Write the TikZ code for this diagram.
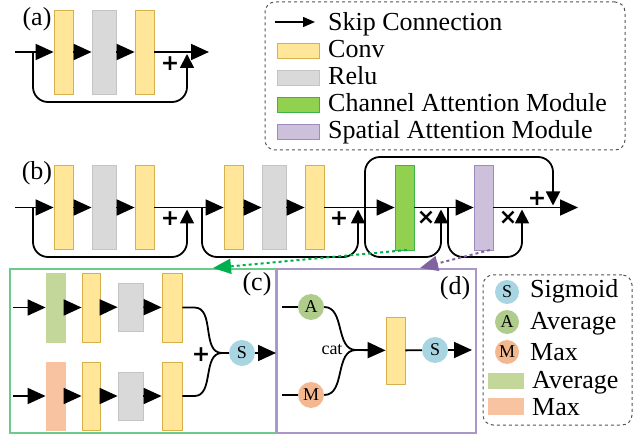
\documentclass[tikz,border=0pt]{standalone}
\usepackage{fontspec}
\setmainfont{Liberation Serif}
\newfontfamily\symfont{DejaVu Sans}
\usetikzlibrary{arrows.meta}
\definecolor{convfill}{HTML}{FFE699}
\definecolor{convdraw}{HTML}{D6B04A}
\definecolor{relufill}{HTML}{D9D9D9}
\definecolor{reludraw}{HTML}{C4C4C4}
\definecolor{cafill}{HTML}{92D050}
\definecolor{cadraw}{HTML}{3CB44B}
\definecolor{safill}{HTML}{CCC0DA}
\definecolor{sadraw}{HTML}{9E8CC0}
\definecolor{avgfill}{HTML}{C4D79B}
\definecolor{maxfill}{HTML}{F8C3A0}
\definecolor{sigfill}{HTML}{A8D5E2}
\definecolor{afill}{HTML}{B0CC8C}
\definecolor{mfill}{HTML}{F4B890}
\definecolor{cframe}{HTML}{6CCB8A}
\definecolor{dframe}{HTML}{A898C8}
\definecolor{dgreen}{HTML}{00B050}
\definecolor{dpurple}{HTML}{8064A2}
\definecolor{legframe}{HTML}{555555}
\begin{document}
\begin{tikzpicture}[x=1pt,y=-1pt,
  font=\fontsize{26}{30}\selectfont,
  line/.style={line width=1.8pt},
  arr/.style={line width=1.8pt,-{Triangle[length=18pt,width=16pt]}},
  skiparr/.style={line width=1.8pt,-{Triangle[length=14pt,width=14pt]},rounded corners=15pt},
  blk/.style={draw,line width=0.8pt,inner sep=0pt,minimum width=19pt,minimum height=84pt},
  conv/.style={blk,fill=convfill,draw=convdraw},
  relu/.style={blk,fill=relufill,draw=reludraw,minimum width=24pt},
  camod/.style={blk,fill=cafill,draw=cadraw,minimum height=85pt},
  samod/.style={blk,fill=safill,draw=sadraw,minimum height=85pt},
  plus/.style={inner sep=0pt,font=\symfont\fontsize{22}{22}\selectfont\bfseries},
  lbl/.style={inner sep=0pt},
  txt/.style={inner sep=0pt,anchor=base west},
  circ/.style={circle,inner sep=0pt,minimum size=26pt,font=\fontsize{18}{18}\selectfont},
  swatch/.style={draw,line width=0.8pt,inner sep=0pt,minimum width=42pt,minimum height=15pt},
  frame/.style={inner sep=0pt,line width=1.2pt},
  legbox/.style={draw=legframe,dashed,line width=1pt,rounded corners=10pt,inner sep=0pt},
  dptr/.style={dashed,line width=2pt,-{Triangle[length=18pt,width=15pt]}}
]
\useasboundingbox (0,0) rectangle (637,438);

% ---------- Legend 1 ----------
\node[legbox,minimum width=360pt,minimum height=148pt] (leg1) at (445,76) {};
\coordinate (lk1) at (275,22);
\coordinate (lk2) at (315,22);
\draw[line width=1.5pt,-{Triangle[length=12pt,width=10pt]}] (lk1) -- (lk2);
\node[txt] (tskip) at (328,31) {Skip Connection};
\node[swatch,fill=convfill,draw=convdraw] (sconv) at (298,50.5) {};
\node[txt] (tconv) at (328,58) {Conv};
\node[swatch,fill=relufill,draw=reludraw] (srelu) at (298,77.5) {};
\node[txt] (trelu) at (328,85) {Relu};
\node[swatch,fill=cafill,draw=cadraw] (sca) at (298,105) {};
\node[txt] (tca) at (328,112) {Channel Attention Module};
\node[swatch,fill=safill,draw=sadraw] (ssa) at (298,131.5) {};
\node[txt] (tsa) at (328,139) {Spatial Attention Module};

% ---------- (a) ----------
\node[lbl] (la) at (37,19) {(a)};
\node[conv] (a1) at (63.5,52) {};
\node[relu] (a2) at (104,52) {};
\node[conv] (a3) at (144.5,52) {};
\coordinate (ain) at (15,52);
\coordinate (aout) at (209,52);
\coordinate (askip) at (33,52);
\coordinate (aend) at (187,54);
\draw[arr] (ain) -- (a1);
\draw[arr] (a1) -- (a2);
\draw[arr] (a2) -- (a3);
\draw[arr] (a3) -- (aout);
\draw[skiparr] (askip) -- (33,102) -- (187,102) -- (aend);
\node[plus] (ap) at (170,64) {+};

% ---------- (b) ----------
\node[lbl] (lb) at (37,173) {(b)};
\node[conv] (b1) at (63.5,207.5) {};
\node[relu] (b2) at (104,207.5) {};
\node[conv] (b3) at (144.5,207.5) {};
\node[conv] (b4) at (233.5,207.5) {};
\node[relu] (b5) at (274,207.5) {};
\node[conv] (b6) at (314.5,207.5) {};
\node[camod] (ca) at (404.5,207.5) {};
\node[samod] (sa) at (483.5,207.5) {};
\coordinate (bin) at (15,207.5);
\coordinate (bout) at (578,207.5);
\draw[arr] (bin) -- (b1);
\draw[arr] (b1) -- (b2);
\draw[arr] (b2) -- (b3);
\draw[arr] (b3) -- (b4);
\draw[arr] (b4) -- (b5);
\draw[arr] (b5) -- (b6);
\draw[arr] (b6) -- (ca);
\draw[arr] (ca) -- (sa);
\draw[arr] (sa) -- (bout);
\coordinate (s1a) at (33,207.5);   \coordinate (s1b) at (187,209.5);
\coordinate (s2a) at (202,207.5);  \coordinate (s2b) at (358,209.5);
\coordinate (s3a) at (365,207.5);  \coordinate (s3b) at (553,205.5);
\coordinate (s4b) at (441,209.5);
\coordinate (s5a) at (448,207.5);  \coordinate (s5b) at (522,209.5);
\draw[skiparr] (s1a) -- (33,257) -- (187,257) -- (s1b);
\draw[skiparr] (s2a) -- (202,257) -- (358,257) -- (s2b);
\draw[skiparr] (s3a) -- (365,157) -- (553,157) -- (s3b);
\draw[skiparr] (s3a) -- (365,257) -- (441,257) -- (s4b);
\draw[skiparr] (s5a) -- (448,257) -- (522,257) -- (s5b);
\node[plus] (bp1) at (170,219) {+};
\node[plus] (bp2) at (339,219) {+};
\node[plus] (bp3) at (537,199) {+};
\node[plus] (bx1) at (426,218) {×};
\node[plus] (bx2) at (508,218) {×};

% ---------- frames ----------
\node[frame,draw=cframe,minimum width=266pt,minimum height=164pt] (cbox) at (143,351) {};
\node[frame,draw=dframe,minimum width=199pt,minimum height=164pt] (dbox) at (376.5,351) {};

% dashed pointers
\coordinate (cat1) at (407,250);
\coordinate (ctip) at (213,268);
\coordinate (dat1) at (490,250);
\coordinate (dtip) at (420,268);
\draw[dgreen,dptr] (cat1) -- (ctip);
\draw[dpurple,dptr] (dat1) -- (dtip);

% ---------- (c) ----------
\node[lbl] (lc) at (257,284) {(c)};
\node[blk,fill=avgfill,draw=avgfill,minimum height=69pt] (c1) at (55.5,307.5) {};
\node[conv,minimum width=18pt,minimum height=69pt] (c2) at (91,307.5) {};
\node[relu,minimum width=25pt,minimum height=48pt] (c3) at (130.5,307) {};
\node[conv,minimum width=20pt,minimum height=69pt] (c4) at (172,307.5) {};
\node[blk,fill=maxfill,draw=maxfill,minimum height=68pt] (d1) at (55.5,396) {};
\node[conv,minimum width=18pt,minimum height=68pt] (d2) at (91,396) {};
\node[relu,minimum width=25pt,minimum height=48pt] (d3) at (130.5,396) {};
\node[conv,minimum width=20pt,minimum height=68pt] (d4) at (172,396) {};
\coordinate (cin1) at (13,307.5);
\coordinate (cin2) at (13,396);
\draw[arr] (cin1) -- (c1);
\draw[arr] (c1) -- (c2);
\draw[arr] (c2) -- (c3);
\draw[arr] (c3) -- (c4);
\draw[arr] (cin2) -- (d1);
\draw[arr] (d1) -- (d2);
\draw[arr] (d2) -- (d3);
\draw[arr] (d3) -- (d4);
\node[circ,fill=sigfill] (cs) at (242,353) {S};
\coordinate (cmeet) at (222,353);
\coordinate (cout) at (276,353);
\draw[line] (c4.east) -- ++(12,0) to[out=0,in=180] (cmeet);
\draw[line] (d4.east) -- ++(12,0) to[out=0,in=180] (cmeet);
\draw[line] (cmeet) -- (cs);
\draw[arr] (cs) -- (cout);
\node[plus] (cp) at (201,355) {+};

% ---------- (d) ----------
\node[lbl] (ld) at (455,288) {(d)};
\node[circ,fill=afill] (dA) at (311,307) {A};
\node[circ,fill=mfill] (dM) at (311,395) {M};
\coordinate (din1) at (282,307);
\coordinate (din2) at (282,395);
\draw[line] (din1) -- (dA);
\draw[line] (din2) -- (dM);
\coordinate (dmeet) at (356,350);
\draw[line] (dA.east) to[out=0,in=180] (dmeet);
\draw[line] (dM.east) to[out=0,in=180] (dmeet);
\node[conv,minimum height=67pt] (dconv) at (395.5,350.5) {};
\draw[arr] (dmeet) -- (dconv);
\node[inner sep=0pt,font=\fontsize{18}{18}\selectfont] (dcat) at (332,350) {cat};
\node[circ,fill=sigfill] (ds) at (435,350) {S};
\draw[line] (dconv) -- (ds);
\coordinate (dout) at (472,350);
\draw[arr] (ds) -- (dout);

% ---------- Legend 2 ----------
\node[legbox,minimum width=149pt,minimum height=150pt] (leg2) at (557.5,350) {};
\node[circ,fill=sigfill,minimum size=24pt] (ls) at (507,292) {S};
\node[txt] (tls) at (530,298) {Sigmoid};
\node[circ,fill=afill,minimum size=24pt] (la2) at (507,322) {A};
\node[txt] (tla) at (530,330) {Average};
\node[circ,fill=mfill,minimum size=24pt] (lm) at (507,352) {M};
\node[txt] (tlm) at (530,360) {Max};
\node[swatch,fill=avgfill,draw=avgfill,minimum width=35pt] (lavg) at (505.5,380.5) {};
\node[txt] (tlavg) at (532,388) {Average};
\node[swatch,fill=maxfill,draw=maxfill,minimum width=35pt,minimum height=16pt] (lmax) at (505.5,406) {};
\node[txt] (tlmax) at (532,415) {Max};
\end{tikzpicture}
\end{document}
